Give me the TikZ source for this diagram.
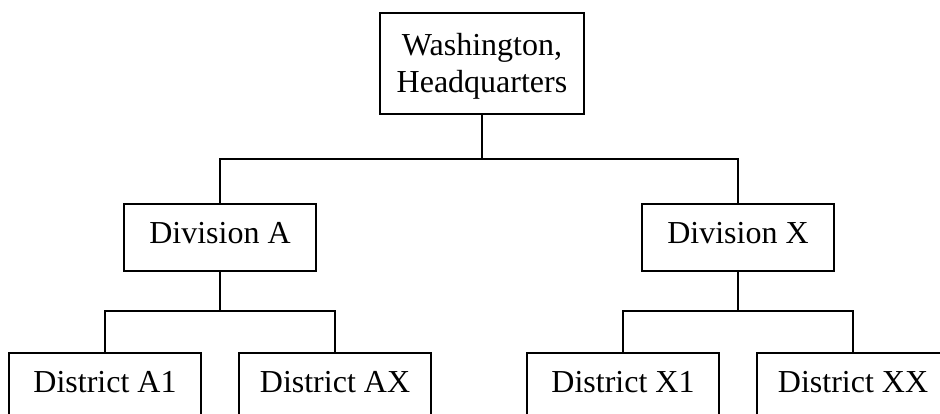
\documentclass[tikz,border=0pt]{standalone}
\usepackage{fontspec}
\setmainfont{Liberation Serif}
\begin{document}
\begin{tikzpicture}[x=1pt,y=-1pt,
  box/.style={draw=black, line width=1.6pt, fill=white, inner sep=0pt, anchor=north,
    font=\fontsize{32}{37}\selectfont, text=black},
  divbox/.style={box, minimum width=192pt, text height=40pt, text depth=27pt},
  distbox/.style={box, minimum width=192pt, text height=40pt, text depth=40pt},
  hqbox/.style={box, line width=2pt, minimum width=204pt, text height=43pt, text depth=58pt},
  link/.style={line width=1.6pt, black},
  trunk/.style={line width=2.6pt, black}]
\useasboundingbox (0,0) rectangle (940,414);
\clip (0,0) rectangle (940,414);
\fill[white] (0,0) rectangle (940,414);

\node[hqbox] (hq) at (482,12) {\parbox[t]{204pt}{\centering Washington,\\Headquarters}};

\node[divbox] (diva) at (220,203) {Division A};
\node[divbox] (divx) at (738,203) {Division X};

\node[distbox] (a1) at (105,352) {District A1};
\node[distbox] (ax) at (335,352) {District AX};
\node[distbox] (x1) at (623,352) {District X1};
\node[distbox] (xx) at (853,352) {District XX};

\coordinate (j0) at (482,159);
\coordinate (ja) at (220,311);
\coordinate (jx) at (738,311);

\draw[trunk] (hq.south) -- (j0);
\draw[link] (diva.north) |- (j0) -| (divx.north);

\draw[link] (diva.south) -- (ja);
\draw[link] (a1.north) |- (ja) -| (ax.north);

\draw[link] (divx.south) -- (jx);
\draw[link] (x1.north) |- (jx) -| (xx.north);
\end{tikzpicture}
\end{document}
